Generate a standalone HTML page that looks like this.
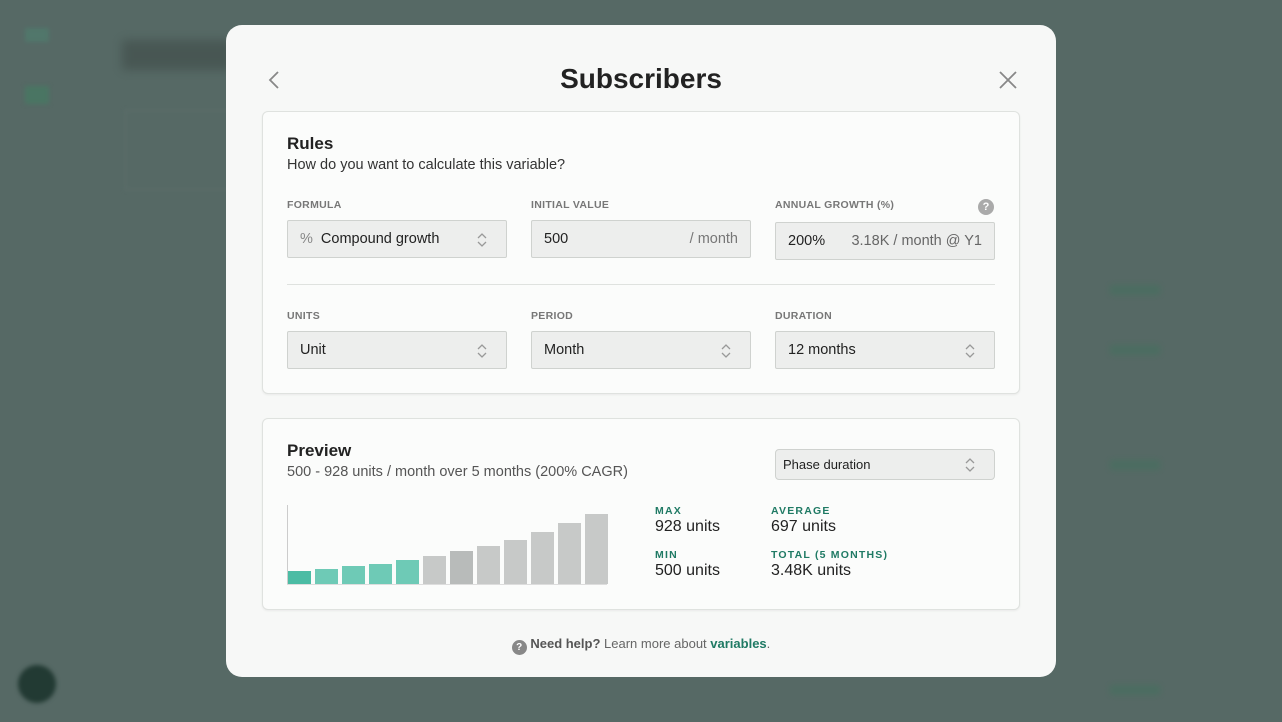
<!DOCTYPE html>
<html><head><meta charset="utf-8"><style>
*{box-sizing:border-box;margin:0;padding:0}
body{width:1282px;height:722px;overflow:hidden;background:#566965;font-family:"Liberation Sans",sans-serif;color:#222;position:relative}
.abs{position:absolute}
.modal{left:226px;top:25px;width:830px;height:652px;background:#f7f8f7;border-radius:16px}
.card{background:#fbfcfb;border:1px solid #dfe2df;border-radius:6px;box-shadow:0 1px 2px rgba(0,0,0,.06)}
.lbl{font-size:10.5px;font-weight:bold;color:#777;letter-spacing:.3px}
.field{background:#edeeed;border:1px solid #cfd2cf;border-radius:2px;height:38px;font-size:14.5px;color:#222;display:flex;align-items:center;padding:0 12px}
.chev{position:absolute;right:18px;top:12px;width:12px;height:14px}
.stat-l{font-size:10.5px;font-weight:bold;color:#1f7a64;letter-spacing:1.2px}
.stat-v{font-size:16px;color:#222}
.bar{position:absolute;width:23px}
</style></head><body>
<div class="abs" style="left:25px;top:28px;width:24px;height:14px;background:#4f7d6e;opacity:.7;filter:blur(2px)"></div>
<div class="abs" style="left:25px;top:86px;width:24px;height:18px;background:#4a7563;filter:blur(2px)"></div>
<div class="abs" style="left:122px;top:40px;width:110px;height:30px;background:#3f4b48;opacity:.6;filter:blur(5px)"></div>
<div class="abs" style="left:18px;top:665px;width:38px;height:38px;border-radius:50%;background:#223a33;filter:blur(2px)"></div>
<div class="abs" style="left:125px;top:110px;width:110px;height:80px;border:1px solid #62726f;filter:blur(2px)"></div>
<div class="abs" style="left:1110px;top:285px;width:50px;height:10px;background:#44705e;filter:blur(3px);opacity:.6"></div>
<div class="abs" style="left:1110px;top:345px;width:50px;height:10px;background:#44705e;filter:blur(3px);opacity:.6"></div>
<div class="abs" style="left:1110px;top:460px;width:50px;height:10px;background:#44705e;filter:blur(3px);opacity:.6"></div>
<div class="abs" style="left:1110px;top:685px;width:50px;height:10px;background:#44705e;filter:blur(3px);opacity:.6"></div>

<div class="abs modal"></div>
<svg class="abs" style="left:266px;top:70px" width="16" height="20"><path d="M12 2 L4 10 L12 18" stroke="#888" stroke-width="1.8" fill="none"/></svg>
<div class="abs" style="left:0;width:1282px;top:63px;text-align:center;font-size:28px;font-weight:bold;color:#222">Subscribers</div>
<svg class="abs" style="left:998px;top:70px" width="20" height="20"><path d="M2 2L18 18M18 2L2 18" stroke="#888" stroke-width="1.8"/></svg>

<div class="abs card" style="left:262px;top:111px;width:758px;height:283px"></div>
<div class="abs" style="left:287px;top:134px;font-size:17px;font-weight:bold">Rules</div>
<div class="abs" style="left:287px;top:157px;font-size:14.5px;color:#333">How do you want to calculate this variable?</div>

<div class="abs lbl" style="left:287px;top:199px">FORMULA</div>
<div class="abs lbl" style="left:531px;top:199px">INITIAL VALUE</div>
<div class="abs lbl" style="left:775px;top:199px">ANNUAL GROWTH (%)</div>
<div class="abs" style="left:978px;top:199px;width:16px;height:16px;border-radius:50%;background:#aaa;color:#fff;font-size:11px;font-weight:bold;text-align:center;line-height:16px">?</div>

<div class="abs field" style="left:287px;top:220px;width:220px"><span style="color:#888;margin-right:8px">%</span>Compound growth
<svg class="chev" viewBox="0 0 12 14"><path d="M2 5L6 1L10 5M2 9L6 13L10 9" stroke="#999" fill="none" stroke-width="1.3"/></svg></div>
<div class="abs field" style="left:531px;top:220px;width:220px;justify-content:space-between">500<span style="color:#777">/ month</span></div>
<div class="abs field" style="left:775px;top:222px;width:220px;justify-content:space-between">200%<span style="color:#666">3.18K / month @ Y1</span></div>

<div class="abs" style="left:287px;top:284px;width:708px;height:1px;background:#dfe2df"></div>

<div class="abs lbl" style="left:287px;top:310px">UNITS</div>
<div class="abs lbl" style="left:531px;top:310px">PERIOD</div>
<div class="abs lbl" style="left:775px;top:310px">DURATION</div>
<div class="abs field" style="left:287px;top:331px;width:220px">Unit<svg class="chev" viewBox="0 0 12 14"><path d="M2 5L6 1L10 5M2 9L6 13L10 9" stroke="#999" fill="none" stroke-width="1.3"/></svg></div>
<div class="abs field" style="left:531px;top:331px;width:220px">Month<svg class="chev" viewBox="0 0 12 14"><path d="M2 5L6 1L10 5M2 9L6 13L10 9" stroke="#999" fill="none" stroke-width="1.3"/></svg></div>
<div class="abs field" style="left:775px;top:331px;width:220px">12 months<svg class="chev" viewBox="0 0 12 14"><path d="M2 5L6 1L10 5M2 9L6 13L10 9" stroke="#999" fill="none" stroke-width="1.3"/></svg></div>

<div class="abs card" style="left:262px;top:418px;width:758px;height:192px"></div>
<div class="abs" style="left:287px;top:441px;font-size:17px;font-weight:bold">Preview</div>
<div class="abs" style="left:287px;top:464px;font-size:14.5px;color:#555">500 - 928 units / month over 5 months (200% CAGR)</div>
<div class="abs field" style="left:775px;top:449px;width:220px;height:31px;font-size:13px;border-radius:4px;padding:0 7px">Phase duration<svg class="chev" style="top:8px" viewBox="0 0 12 14"><path d="M2 5L6 1L10 5M2 9L6 13L10 9" stroke="#999" fill="none" stroke-width="1.3"/></svg></div>

<div class="abs" style="left:287px;top:505px;width:1px;height:80px;background:#ccc"></div>
<div class="abs" style="left:287px;top:584px;width:320px;height:1px;background:#ddd"></div>
<div class="bar" style="left:288px;top:571px;height:13px;background:#4bbca4"></div>
<div class="bar" style="left:315px;top:569px;height:15px;background:#6ecab6"></div>
<div class="bar" style="left:342px;top:566px;height:18px;background:#6ecab6"></div>
<div class="bar" style="left:369px;top:564px;height:20px;background:#6ecab6"></div>
<div class="bar" style="left:396px;top:560px;height:24px;background:#6ecab6"></div>
<div class="bar" style="left:423px;top:556px;height:28px;background:#c7c9c8"></div>
<div class="bar" style="left:450px;top:551px;height:33px;background:#b8bbba"></div>
<div class="bar" style="left:477px;top:546px;height:38px;background:#c7c9c8"></div>
<div class="bar" style="left:504px;top:540px;height:44px;background:#c7c9c8"></div>
<div class="bar" style="left:531px;top:532px;height:52px;background:#c7c9c8"></div>
<div class="bar" style="left:558px;top:523px;height:61px;background:#c7c9c8"></div>
<div class="bar" style="left:585px;top:514px;height:70px;background:#c7c9c8"></div>

<div class="abs stat-l" style="left:655px;top:505px">MAX</div>
<div class="abs stat-v" style="left:655px;top:518px">928 units</div>
<div class="abs stat-l" style="left:655px;top:549px">MIN</div>
<div class="abs stat-v" style="left:655px;top:562px">500 units</div>
<div class="abs stat-l" style="left:771px;top:505px">AVERAGE</div>
<div class="abs stat-v" style="left:771px;top:518px">697 units</div>
<div class="abs stat-l" style="left:771px;top:549px">TOTAL (5 MONTHS)</div>
<div class="abs stat-v" style="left:771px;top:562px">3.48K units</div>

<div class="abs" style="left:0;width:1282px;top:636px;text-align:center;font-size:13px;color:#666">
<span style="display:inline-block;width:15px;height:15px;border-radius:50%;background:#888;color:#fff;font-size:10px;font-weight:bold;line-height:15px;vertical-align:-2px">?</span>
<b style="color:#555">Need help?</b> Learn more about <b style="color:#1f7a64">variables</b>.</div>
</body></html>
